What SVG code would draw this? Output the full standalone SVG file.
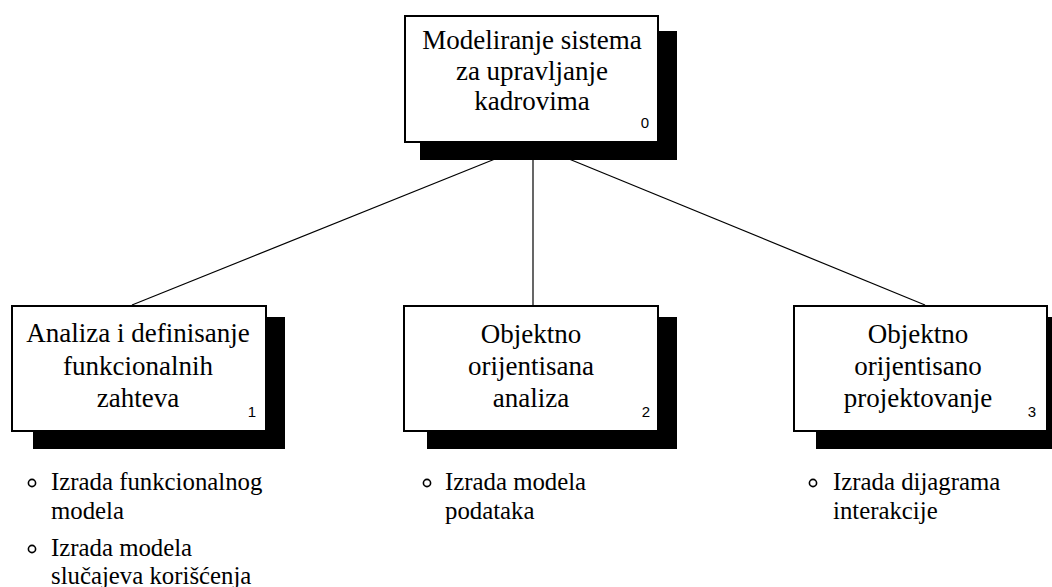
<svg xmlns="http://www.w3.org/2000/svg" width="1052" height="587" viewBox="0 0 1052 587">
  <defs>
    <style>
      .shadow { fill: #000; }
      .box { fill: #fff; stroke: #000; stroke-width: 2; }
      .link { stroke: #000; stroke-width: 1.2; fill: none; }
      .bullet { fill: none; stroke: #000; stroke-width: 1.6; }
      .num { font-family: "Liberation Sans", Arial, sans-serif; font-size: 15px; }
    </style>
  </defs>

  <!-- connectors -->
  <g id="connectors">
    <line class="link" x1="495" y1="159" x2="132" y2="305"/>
    <line class="link" x1="533" y1="159" x2="533" y2="305"/>
    <line class="link" x1="569" y1="159" x2="925" y2="305"/>
  </g>

  <!-- box captions: serif, centred -->
  <g font-family="Liberation Serif, serif" font-size="27" text-anchor="middle" fill="#000">
    <!-- root node -->
    <g id="node-0">
      <rect class="shadow" x="420" y="31" width="257" height="129"/>
      <rect class="box" x="405" y="16" width="253" height="126"/>
      <text x="532" y="49">Modeliranje sistema</text>
      <text x="532" y="80">za upravljanje</text>
      <text x="532" y="110">kadrovima</text>
      <text class="num" x="645" y="128">0</text>
    </g>

    <!-- node 1 -->
    <g id="node-1">
      <rect class="shadow" x="33" y="317" width="252" height="132"/>
      <rect class="box" x="12" y="306" width="254" height="125"/>
      <text x="138" y="342">Analiza i definisanje</text>
      <text x="138" y="375">funkcionalnih</text>
      <text x="138" y="407">zahteva</text>
      <text class="num" x="252" y="417">1</text>
    </g>

    <!-- node 2 -->
    <g id="node-2">
      <rect class="shadow" x="427" y="317" width="250" height="132"/>
      <rect class="box" x="404" y="306" width="254" height="125"/>
      <text x="531" y="343">Objektno</text>
      <text x="531" y="375">orijentisana</text>
      <text x="531" y="407">analiza</text>
      <text class="num" x="646" y="417">2</text>
    </g>

    <!-- node 3 -->
    <g id="node-3">
      <rect class="shadow" x="816" y="317" width="252" height="132"/>
      <rect class="box" x="794" y="306" width="253" height="125"/>
      <text x="918" y="343">Objektno</text>
      <text x="918" y="375">orijentisano</text>
      <text x="918" y="407">projektovanje</text>
      <text class="num" x="1032" y="417">3</text>
    </g>
  </g>

  <!-- activity lists -->
  <g font-family="Liberation Serif, serif" font-size="24.8" fill="#000">
    <g id="list-1">
      <circle class="bullet" cx="32" cy="483" r="3.6"/>
      <text x="51" y="490">Izrada funkcionalnog</text>
      <text x="51" y="519">modela</text>
      <circle class="bullet" cx="32" cy="549" r="3.6"/>
      <text x="51" y="556">Izrada modela</text>
      <text x="51" y="584">slučajeva korišćenja</text>
    </g>
    <g id="list-2">
      <circle class="bullet" cx="427" cy="483" r="3.6"/>
      <text x="445" y="490">Izrada modela</text>
      <text x="445" y="519">podataka</text>
    </g>
    <g id="list-3">
      <circle class="bullet" cx="813" cy="483" r="3.6"/>
      <text x="833" y="490">Izrada dijagrama</text>
      <text x="833" y="519">interakcije</text>
    </g>
  </g>
</svg>
